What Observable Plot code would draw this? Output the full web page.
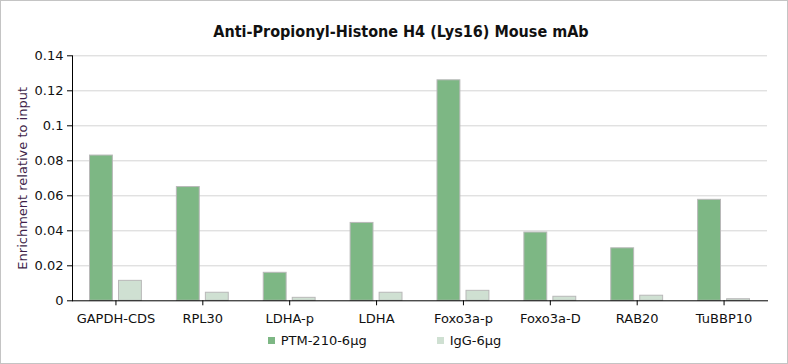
<!DOCTYPE html>
<html>
<head>
<meta charset="utf-8">
<script src="https://cdn.jsdelivr.net/npm/d3@7"></script>
<script src="https://cdn.jsdelivr.net/npm/@observablehq/plot@0.6"></script>
<style>
  html, body { margin: 0; padding: 0; background: #fff; }
  #wrap { position: relative; width: 788px; height: 364px; box-sizing: border-box; border: 1px solid #c4c4c4; overflow: hidden; font-family: "DejaVu Sans", Verdana, sans-serif; }
  #title { position: absolute; top: 21px; left: 14px; width: 772px; text-align: center; font-family: "DejaVu Sans Condensed", "DejaVu Sans", sans-serif; font-weight: bold; font-size: 16px; color: #111; }
  #chart { position: absolute; top: 0; left: 0; }
  #legend { position: absolute; top: 332px; left: 0; width: 767px; display: flex; justify-content: center; font-size: 13px; color: #111; }
  .item { display: flex; align-items: center; margin: 0 35px; }
  .sw { width: 7px; height: 7px; margin-right: 6px; }
</style>
</head>
<body>
<div id="wrap">
  <div id="title">Anti-Propionyl-Histone H4 (Lys16) Mouse mAb</div>
  <div id="chart"></div>
  <div id="legend"></div>
</div>
<script>
const categories = ["GAPDH-CDS", "RPL30", "LDHA-p", "LDHA", "Foxo3a-p", "Foxo3a-D", "RAB20", "TuBBP10"];
const seriesNames = ["PTM-210-6μg", "IgG-6μg"];
const ptmValues = [0.083, 0.065, 0.016, 0.0445, 0.126, 0.039, 0.030, 0.0577];
const iggValues = [0.0114, 0.0046, 0.0017, 0.0046, 0.0057, 0.0023, 0.0029, 0.0009];
const yTicks = [0, 0.02, 0.04, 0.06, 0.08, 0.1, 0.12, 0.14];
const colors = ["#7db784", "#cfe0d2"];

const ptm = categories.map((c, i) => ({category: c, value: ptmValues[i]}));
const igg = categories.map((c, i) => ({category: c, value: iggValues[i]}));

const chart = Plot.plot({
  width: 786,
  height: 330,
  marginTop: 54.3,
  marginBottom: 30.7,
  marginLeft: 71,
  marginRight: 20,
  style: {fontFamily: "'DejaVu Sans', Verdana, sans-serif", fontSize: "13px", color: "#111", background: "transparent"},
  x: {domain: categories, padding: 0, round: false},
  y: {domain: [0, 0.14]},
  marks: [
    Plot.gridY(yTicks.filter(d => d > 0), {stroke: "#d4d4d4", strokeOpacity: 1}),
    Plot.barY(ptm, {x: "category", y: "value", fill: colors[0], stroke: "#b8b8b8", strokeWidth: 1, insetLeft: 32, insetRight: 32, dx: -14.5}),
    Plot.barY(igg, {x: "category", y: "value", fill: colors[1], stroke: "#b8b8b8", strokeWidth: 1, insetLeft: 32, insetRight: 32, dx: 14.5}),
    Plot.axisY({ticks: yTicks, tickSize: 5, tickPadding: 4, stroke: "#000", strokeOpacity: 1,
      tickFormat: d => String(+d.toFixed(2)),
      label: "Enrichment relative to input", labelAnchor: "center", labelArrow: "none", labelOffset: 55}),
    Plot.axisX({tickSize: 5, tickPadding: 8, stroke: "#000", strokeOpacity: 1, label: null}),
    Plot.frame({anchor: "left", stroke: "#000"}),
    Plot.frame({anchor: "bottom", stroke: "#000"})
  ]
});
chart.querySelectorAll("g[aria-label='y-axis label'] text").forEach(t => t.setAttribute("fill", "#3f1f4a"));
document.getElementById("chart").appendChild(chart);

const legend = document.getElementById("legend");
seriesNames.forEach((name, i) => {
  const item = document.createElement("div");
  item.className = "item";
  const sw = document.createElement("div");
  sw.className = "sw";
  sw.style.background = colors[i];
  const label = document.createElement("span");
  label.textContent = name;
  item.appendChild(sw);
  item.appendChild(label);
  legend.appendChild(item);
});
</script>
</body>
</html>
